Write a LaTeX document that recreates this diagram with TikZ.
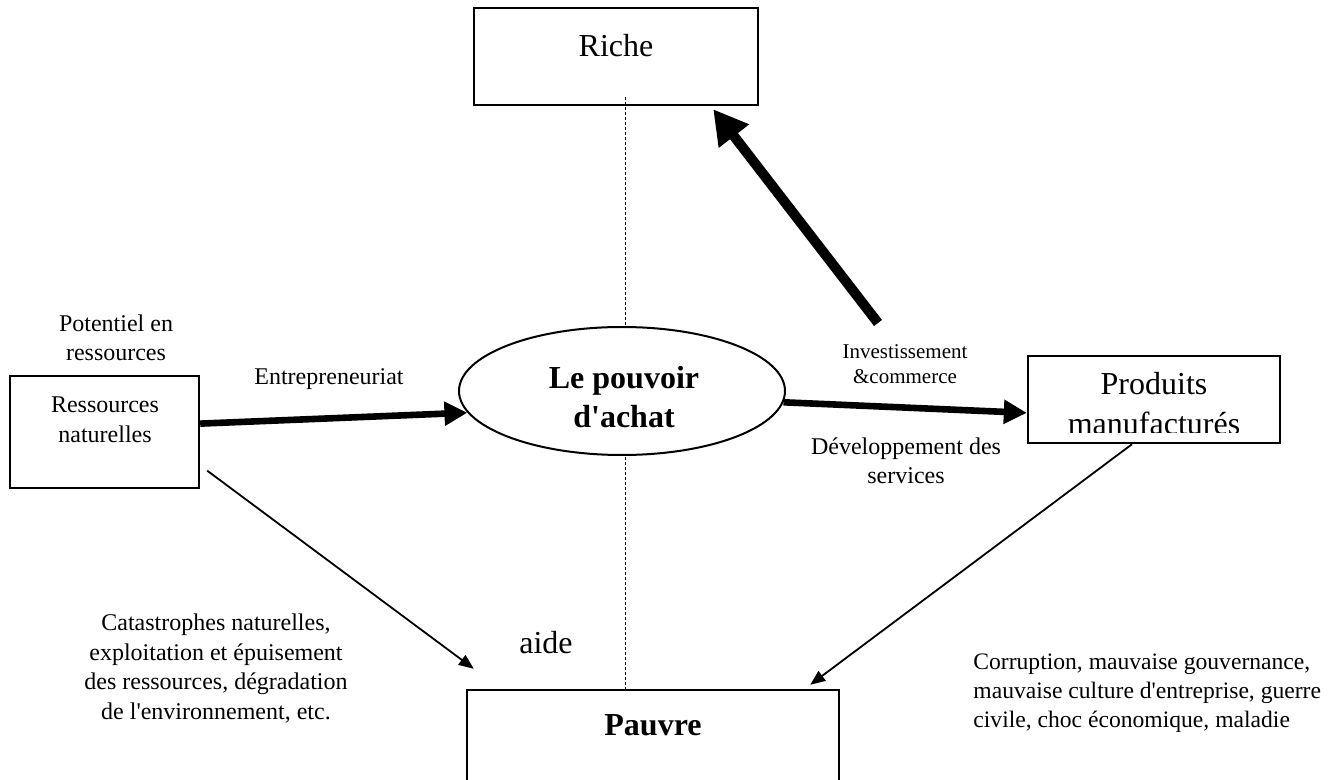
\documentclass[tikz,border=0pt]{standalone}
\usepackage{fontspec}
\setmainfont{Liberation Serif}[Ligatures=TeXOff]
\usetikzlibrary{arrows.meta,shapes.geometric}

\begin{document}
\begin{tikzpicture}[x=0.5pt,y=-0.5pt,
  box/.style={draw,line width=1.2pt,inner sep=0pt},
  txt/.style={inner sep=0pt,align=center},
  fatarrow/.style={line width=3.3pt,-{Triangle[length=11.5pt,width=11.5pt]}},
  thinarrow/.style={line width=0.9pt,-{Triangle[length=7.5pt,width=6pt]}},
  bigtxt/.style={font=\fontsize{16}{19.5}\selectfont},
  bigbold/.style={font=\fontsize{16}{19.5}\selectfont\bfseries},
  smalltxt/.style={font=\fontsize{12}{14.8}\selectfont}]
\clip (0,0) rectangle (1344,780);

% boxes
\node[box,minimum width=142pt,minimum height=48.5pt] (riche) at (616,56.5) {};
\node[box,minimum width=94.5pt,minimum height=56pt] (ressources) at (104.5,432) {};
\node[box,minimum width=126pt,minimum height=43.5pt] (produits) at (1154,399.5) {};
\node[box,minimum width=186pt,minimum height=55pt] (pauvre) at (653,745) {};

\coordinate (axe) at (625,97);
\draw[line width=0.5pt,dash pattern=on 1.5pt off 1pt] (axe) -- (axe |- pauvre.north);

\node[ellipse,draw,fill=white,line width=1pt,minimum width=163pt,minimum height=64pt,
  inner sep=0pt] (pouvoir) at (622,391) {};

% texts in the boxes
\node[txt,bigtxt,anchor=base] (richetxt) at (616,57) {Riche};
\node[txt,font=\fontsize{12}{15}\selectfont] (ressourcestxt) at (105,420) {Ressources\\naturelles};
\node[txt,bigbold] (pouvoirtxt) at (624,397) {Le pouvoir\\d'achat};
\begin{scope}
  \clip (1028,356) rectangle (1280,433);
  \node[txt,font=\fontsize{16}{20}\selectfont] (produitstxt) at (1154,404) {Produits\\manufacturés};
\end{scope}
\node[txt,bigbold,anchor=base] (pauvretxt) at (653,735) {Pauvre};

% arrows
\draw[fatarrow] (ressources.5) -- (pouvoir.188);
\draw[fatarrow] (pouvoir.-4) -- (produits.186);
\coordinate (invest) at (878,323);
\draw[line width=5pt,-{Triangle[length=17pt,width=18pt]}] (invest) -- ([xshift=-23pt,yshift=-1.5pt]riche.south east);
\draw[thinarrow] ([xshift=3.5pt]ressources.-22) -- ([shift={(4pt,10pt)}]pauvre.north west);
\draw[thinarrow] ([xshift=-11pt]produits.south) -- ([shift={(-15pt,2pt)}]pauvre.north east);

% labels
\node[txt,font=\fontsize{12}{14.5}\selectfont] (potentiel) at (116,338) {Potentiel en\\ressources};
\node[txt,smalltxt,anchor=base] (entre) at (329,385) {Entrepreneuriat};
\node[txt,font=\fontsize{10.5}{12.5}\selectfont] (investtxt) at (905,364) {Investissement\\\&commerce};
\node[txt,font=\fontsize{12}{14.5}\selectfont] (services) at (906,461) {Développement des\\services};
\node[txt,font=\fontsize{12}{14.7}\selectfont] (catastrophes) at (216,668.5) {Catastrophes naturelles,\\exploitation et épuisement\\des ressources, dégradation\\de l'environnement, etc.};
\node[txt,bigtxt,anchor=base] (aide) at (546,653) {aide};
\node[txt,align=left,font=\fontsize{11.8}{14.5}\selectfont,anchor=west] (corruption) at (973,693) {Corruption, mauvaise gouvernance,\\mauvaise culture d'entreprise, guerre\\civile, choc économique, maladie};
\end{tikzpicture}
\end{document}
